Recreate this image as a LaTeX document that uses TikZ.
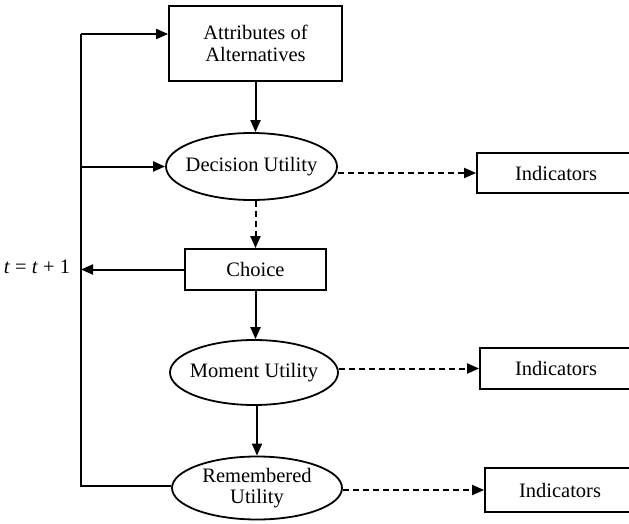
\documentclass[tikz,border=0pt]{standalone}
\usepackage{fontspec}
\setmainfont{Liberation Serif}
\usetikzlibrary{shapes.geometric,arrows.meta}
\begin{document}
\begin{tikzpicture}[x=1pt,y=-1pt,
  every node/.style={font=\fontsize{20.5}{21.5}\selectfont, align=center},
  boxnode/.style={draw, line width=1.8pt, rectangle, inner sep=0pt},
  ellnode/.style={draw, line width=1.8pt, ellipse, inner sep=0pt},
  arr/.style={line width=2pt, -{Triangle[length=12pt,width=10pt]}},
  darr/.style={arr, dash pattern=on 6pt off 4pt},
  ln/.style={line width=2pt}]
\useasboundingbox (0,0) rectangle (629,524);
\node[boxnode, minimum width=173pt, minimum height=75pt] (attr) at (255.5,43.5) {Attributes of\\Alternatives};
\node[ellnode, minimum width=171pt, minimum height=67pt] (dec) at (251.5,166.5) {};
\node (dectxt) at (dec.center) {Decision Utility};
\node[boxnode, minimum width=158pt, minimum height=40pt] (ind1) at (556,173) {Indicators};
\node[boxnode, minimum width=141pt, minimum height=41pt] (choice) at (255.5,269.5) {Choice};
\node[ellnode, minimum width=168pt, minimum height=65pt] (mom) at (254,372.5) {};
\node (momtxt) at (mom.center) {Moment Utility};
\node[boxnode, minimum width=152pt, minimum height=41pt] (ind2) at (556,368.5) {Indicators};
\node[ellnode, minimum width=170pt, minimum height=63pt] (rem) at (257,488) {};
\node (remtxt) at (rem.center) {Remembered\\Utility};
\node[boxnode, minimum width=150pt, minimum height=44pt] (ind3) at (560,490) {Indicators};
\node (tlab) at (37,267) {\textit{t} = \textit{t} + 1};
\coordinate (topL) at (81,34);
\coordinate (botL) at (81,486);
% feedback loop
\draw[ln] (rem.west |- botL) -- (botL) -- (topL);
\draw[arr] (topL) -- (topL -| attr.west);
\draw[arr] (dec.west -| topL) -- (dec.west);
\draw[arr] (choice.west) -- (choice.west -| topL);
% main chain
\draw[arr] (attr.south) -- (attr.south |- dec.north);
\draw[darr] (choice.north |- dec.south) -- (choice.north);
\draw[arr] (choice.south) -- (choice.south |- mom.north);
\draw[arr] (rem.north |- mom.south) -- (rem.north);
% indicators
\draw[darr] (dec.east |- ind1.west) -- (ind1.west);
\draw[darr] (mom.east |- ind2.west) -- (ind2.west);
\draw[darr] (rem.east |- ind3.west) -- (ind3.west);
\end{tikzpicture}
\end{document}
